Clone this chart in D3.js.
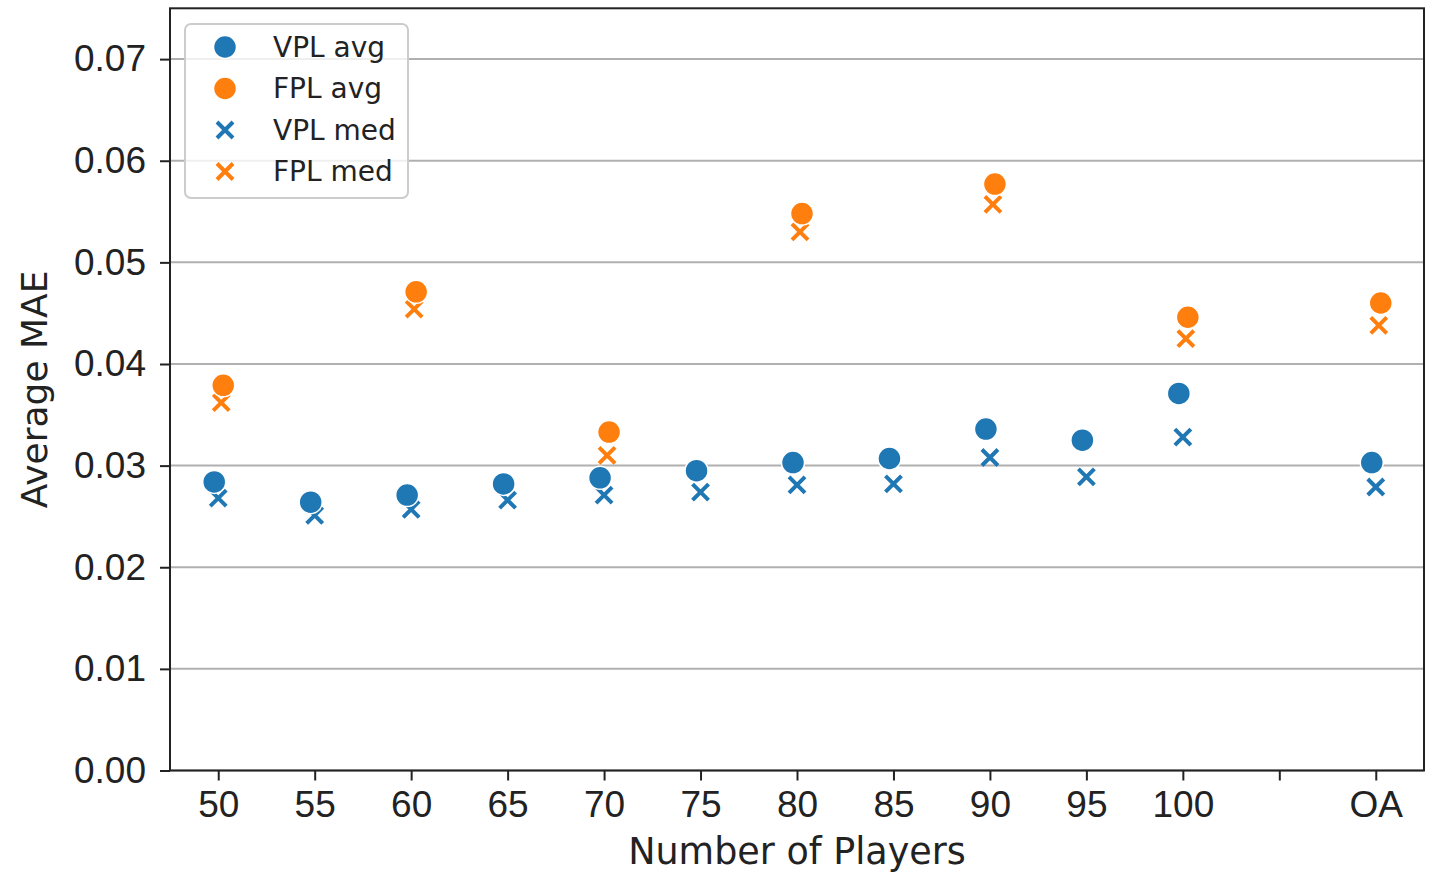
<!DOCTYPE html>
<html>
<head>
<meta charset="utf-8">
<script src="https://cdn.jsdelivr.net/npm/d3@7"></script>
<style>
  body { margin: 0; background: #fff; }
  svg { font-family: "DejaVu Sans", sans-serif; }
</style>
</head>
<body>
<div id="chart"></div>
<script>
/* DATA */
const categories = ["50", "55", "60", "65", "70", "75", "80", "85", "90", "95", "100", "", "OA"];
const yTicks = [0, 0.01, 0.02, 0.03, 0.04, 0.05, 0.06, 0.07];

// null = no point at that category
const vplAvg = [0.0284, 0.0264, 0.0271, 0.0282, 0.0288, 0.0295, 0.0303, 0.0307, 0.0336, 0.0325, 0.0371, null, 0.0303];
const vplMed = [0.0268, 0.0251, 0.0257, 0.0266, 0.0271, 0.0274, 0.0281, 0.0282, 0.0308, 0.0289, 0.0328, null, 0.0279];
const fplAvg = [0.0379, null, 0.0471, null, 0.0333, null, 0.0548, null, 0.0577, null, 0.0446, null, 0.0460];
const fplMed = [0.0362, null, 0.0454, null, 0.0310, null, 0.0530, null, 0.0557, null, 0.0425, null, 0.0438];

const seriesNames = ["VPL avg", "FPL avg", "VPL med", "FPL med"];

/* CONSTANTS */
const width = 1435, height = 872;
const margin = {top: 8.3, bottom: 101.5, left: 170, right: 11};
const blue = "#1f77b4", orange = "#ff7f0e";

const series = [
  {name: "VPL med", values: vplMed, color: blue, shape: "x", dodge: 0},
  {name: "FPL med", values: fplMed, color: orange, shape: "x", dodge: 3},
  {name: "VPL avg", values: vplAvg, color: blue, shape: "o", dodge: -4},
  {name: "FPL avg", values: fplAvg, color: orange, shape: "o", dodge: 5}
];

const svg = d3.select("#chart")
  .append("svg")
  .attr("width", width)
  .attr("height", height);

/* SCALES */
const xScale = d3.scalePoint()
  .domain(categories)
  .range([margin.left, width - margin.right])
  .padding(0.5);

const yScale = d3.scaleLinear()
  .domain([0, 0.075])
  .range([height - margin.bottom, margin.top]);

// grid
svg.append("g")
  .selectAll("line")
  .data(yTicks)
  .join("line")
  .attr("x1", margin.left)
  .attr("x2", width - margin.right)
  .attr("y1", d => yScale(d))
  .attr("y2", d => yScale(d))
  .attr("stroke", "#b0b0b0")
  .attr("stroke-width", 2);

/* AXES */
const xAxis = d3.axisBottom(xScale).tickSize(10).tickPadding(10);
const yAxis = d3.axisLeft(yScale).tickValues(yTicks).tickFormat(d3.format(".2f")).tickSize(10).tickPadding(14);

const xAxisGroup = svg.append("g")
  .attr("transform", `translate(0, ${height - margin.bottom})`)
  .call(xAxis);

const yAxisGroup = svg.append("g")
  .attr("transform", `translate(${margin.left}, 0)`)
  .call(yAxis);

[xAxisGroup, yAxisGroup].forEach(g => {
  g.select(".domain").remove();
  g.selectAll(".tick line").attr("stroke", "#222").attr("stroke-width", 2);
  g.selectAll(".tick text").attr("fill", "#222").style("font-size", "37px");
});

// frame
svg.append("rect")
  .attr("x", margin.left)
  .attr("y", margin.top)
  .attr("width", width - margin.left - margin.right)
  .attr("height", height - margin.top - margin.bottom)
  .attr("fill", "none")
  .attr("stroke", "#222")
  .attr("stroke-width", 2);

/* MARKS */
const arm = 8;
series.forEach(s => {
  const pts = categories.map((c, i) => ({c, v: s.values[i]})).filter(d => d.v !== null);
  const g = svg.append("g");
  if (s.shape === "o") {
    g.selectAll("circle")
      .data(pts)
      .join("circle")
      .attr("cx", d => xScale(d.c) + s.dodge)
      .attr("cy", d => yScale(d.v))
      .attr("r", 11.5)
      .attr("fill", s.color)
      .attr("stroke", "#fff")
      .attr("stroke-width", 1.5);
  } else {
    g.selectAll("path")
      .data(pts)
      .join("path")
      .attr("transform", d => `translate(${xScale(d.c) + s.dodge}, ${yScale(d.v)})`)
      .attr("d", `M${-arm},${-arm}L${arm},${arm}M${-arm},${arm}L${arm},${-arm}`)
      .attr("stroke", s.color)
      .attr("stroke-width", 4)
      .attr("fill", "none");
  }
});

/* LABELS */
svg.append("text")
  .attr("x", (margin.left + width - margin.right) / 2)
  .attr("y", 864)
  .attr("text-anchor", "middle")
  .attr("fill", "#222")
  .style("font-size", "36.5px")
  .text("Number of Players");

svg.append("text")
  .attr("transform", `translate(47, ${(margin.top + height - margin.bottom) / 2}) rotate(-90)`)
  .attr("text-anchor", "middle")
  .attr("fill", "#222")
  .style("font-size", "36px")
  .text("Average MAE");

/* LEGEND */
const legend = svg.append("g").attr("transform", "translate(185, 24)");
legend.append("rect")
  .attr("width", 223)
  .attr("height", 174)
  .attr("rx", 6)
  .attr("fill", "#fff")
  .attr("fill-opacity", 0.8)
  .attr("stroke", "#cccccc")
  .attr("stroke-width", 2);

const legendStyle = {
  "VPL avg": {color: blue, shape: "o"},
  "FPL avg": {color: orange, shape: "o"},
  "VPL med": {color: blue, shape: "x"},
  "FPL med": {color: orange, shape: "x"}
};

const rows = legend.selectAll(".row")
  .data(seriesNames)
  .join("g")
  .attr("class", "row")
  .attr("transform", (d, i) => `translate(40, ${23 + i * 41.5})`);

rows.each(function(d) {
  const st = legendStyle[d];
  const r = d3.select(this);
  if (st.shape === "o") {
    r.append("circle").attr("r", 11.5).attr("fill", st.color).attr("stroke", "#fff").attr("stroke-width", 1.5);
  } else {
    r.append("path")
      .attr("d", `M${-arm},${-arm}L${arm},${arm}M${-arm},${arm}L${arm},${-arm}`)
      .attr("stroke", st.color)
      .attr("stroke-width", 4);
  }
  r.append("text")
    .attr("x", 48)
    .attr("dy", "0.35em")
    .attr("fill", "#222")
    .style("font-size", "28px")
    .text(d);
});
</script>
</body>
</html>
